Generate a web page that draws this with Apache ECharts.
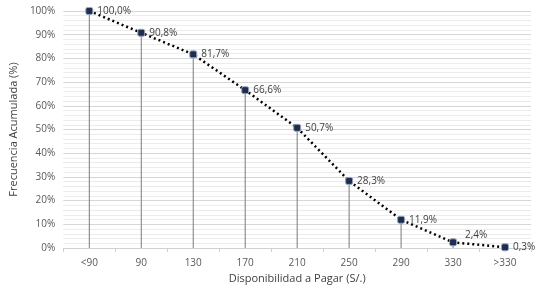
<!DOCTYPE html>
<html>
<head>
<meta charset="utf-8">
<script src="https://cdn.jsdelivr.net/npm/echarts@6/dist/echarts.min.js"></script>
<style>
  html, body { margin: 0; padding: 0; background: #fff; }
  #chart { width: 542px; height: 292px; }
</style>
</head>
<body>
<div id="chart"></div>
<script>
const categories = ['<90', '90', '130', '170', '210', '250', '290', '330', '>330']
const cumulative = [100.0, 90.8, 81.7, 66.6, 50.7, 28.3, 11.9, 2.4, 0.3]
const yTicks = [0, 10, 20, 30, 40, 50, 60, 70, 80, 90, 100]

const font = 'Open Sans'
const chart = echarts.init(document.getElementById('chart'))

const fmt = v => v.toFixed(1).replace('.', ',') + '%'

chart.setOption({
  animation: false,
  textStyle: { fontFamily: font },
  grid: { left: 63, right: 11, top: 11, bottom: 44 },
  xAxis: {
    type: 'category',
    data: categories,
    boundaryGap: true,
    name: 'Disponibilidad a Pagar (S/.)',
    nameLocation: 'middle',
    nameGap: 24,
    nameTextStyle: { color: '#404040', fontSize: 11 },
    axisLine: { lineStyle: { color: '#d0d0d0' } },
    axisTick: { show: true, length: 4, lineStyle: { color: '#d0d0d0' } },
    axisLabel: { color: '#595959', fontSize: 10, margin: 10 },
  },
  yAxis: {
    type: 'value',
    min: yTicks[0],
    max: yTicks[yTicks.length - 1],
    interval: 10,
    name: 'Frecuencia Acumulada (%)',
    nameLocation: 'middle',
    nameRotate: 90,
    nameGap: 37,
    nameTextStyle: { color: '#404040', fontSize: 11 },
    axisLine: { show: false },
    axisTick: { show: false },
    axisLabel: { color: '#595959', fontSize: 10, formatter: v => v + '%' },
    splitLine: { lineStyle: { color: '#d6d6d6', width: 1 } },
    minorTick: { show: false, splitNumber: 5 },
    minorSplitLine: { show: true, lineStyle: { color: '#ececec', width: 1 } },
  },
  series: [
    {
      type: 'bar',
      data: cumulative,
      barWidth: 1,
      itemStyle: { color: '#7a7a7a' },
      silent: true,
    },
    {
      type: 'line',
      data: cumulative.map((v, i) => i === 7
        ? { value: v, label: { offset: [4, -7] } }
        : v),
      symbol: 'roundRect',
      symbolSize: 7,
      itemStyle: { color: '#1f2d4f', borderColor: '#9aa7c0', borderWidth: 1 },
      lineStyle: { color: '#000', width: 2.5, type: [2, 3] },
      label: {
        show: true,
        position: 'right',
        distance: 4,
        color: '#404040',
        fontSize: 10,
        formatter: p => fmt(p.value),
      },
      z: 3,
    },
  ],
})
</script>
</body>
</html>
